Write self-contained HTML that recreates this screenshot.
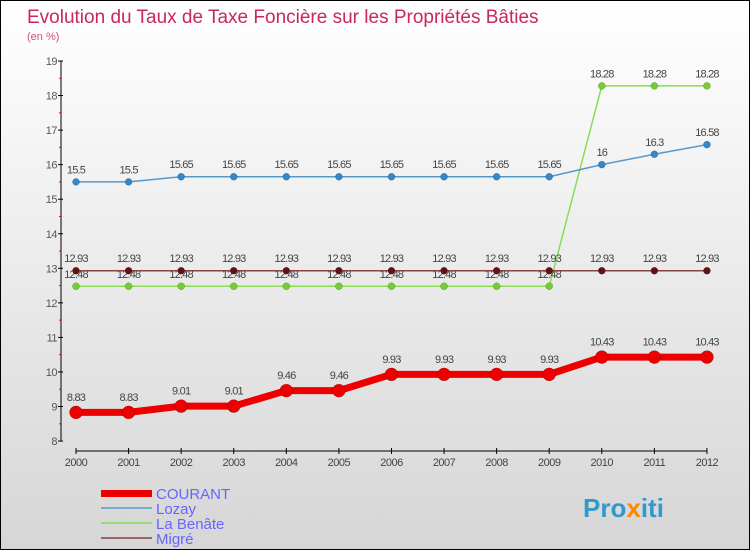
<!DOCTYPE html>
<html><head><meta charset="utf-8"><style>
html,body{margin:0;padding:0}
body{width:750px;height:550px;overflow:hidden;font-family:"Liberation Sans",sans-serif}
#wrap{position:relative;width:748px;height:548px;border:1px solid #000;background:linear-gradient(#ffffff,#d6d6d6)}
</style></head><body>
<div id="wrap">
<svg id="chart" width="748" height="548" style="position:absolute;left:0;top:0">
<text x="26" y="22" font-size="19" fill="#c8285a">Evolution du Taux de Taxe Foncière sur les Propriétés Bâties</text>
<text x="26" y="39" font-size="11" fill="#d05080">(en %)</text>
<g id="axes"></g>
<g id="series"></g>
<g id="legend">
<rect x="100" y="489" width="51" height="7" fill="#ee0000"/>
<text x="155" y="498" font-size="15" fill="#6666ff">COURANT</text>
<line x1="100" y1="507" x2="151" y2="507" stroke="#7aaad0" stroke-width="2"/>
<text x="155" y="513" font-size="15" fill="#6666ff">Lozay</text>
<line x1="100" y1="522" x2="151" y2="522" stroke="#99dd77" stroke-width="2"/>
<text x="155" y="528" font-size="15" fill="#6666ff">La Benâte</text>
<line x1="100" y1="537" x2="151" y2="537" stroke="#996666" stroke-width="2"/>
<text x="155" y="543" font-size="15" fill="#6666ff">Migré</text>
</g>
<g>
<text x="582" y="516" font-size="26" font-weight="bold" fill="#3399cc">Pro<tspan fill="#ff8800">x</tspan>iti</text>
</g>
</svg>
</div>
<script>
const years=[2000,2001,2002,2003,2004,2005,2006,2007,2008,2009,2010,2011,2012];
const courant=[8.83,8.83,9.01,9.01,9.46,9.46,9.93,9.93,9.93,9.93,10.43,10.43,10.43];
const lozay=[15.5,15.5,15.65,15.65,15.65,15.65,15.65,15.65,15.65,15.65,16,16.3,16.58];
const labene=[12.48,12.48,12.48,12.48,12.48,12.48,12.48,12.48,12.48,12.48,18.28,18.28,18.28];
const migre=[12.93,12.93,12.93,12.93,12.93,12.93,12.93,12.93,12.93,12.93,12.93,12.93,12.93];
const yTicks=[8,9,10,11,12,13,14,15,16,17,18,19];
const NS="http://www.w3.org/2000/svg";
const X=i=>75+i*52.58;
const Y=v=>60+(19-v)*34.55;
function mk(tag,attrs,parent){const e=document.createElementNS(NS,tag);for(const k in attrs)e.setAttribute(k,attrs[k]);parent.appendChild(e);return e;}
const ax=document.getElementById('axes');
let e=mk('line',{x1:60,y1:60,x2:60,y2:440,stroke:'#000','stroke-width':1},ax);


yTicks.forEach(v=>{
 let t=mk('line',{x1:57,y1:Y(v),x2:62,y2:Y(v),stroke:'#000'},ax);
 
 
 let l=mk('text',{x:56,y:Y(v)+4,'font-size':11,fill:'#555','text-anchor':'end','letter-spacing':'-0.5'},ax);
 l.textContent=v;
 
 
 if(v<19){let m=mk('line',{x1:58,y1:Y(v+0.5),x2:60,y2:Y(v+0.5),stroke:'#f00'},ax);
 
 }
});
e=mk('line',{x1:X(0),y1:450,x2:X(12),y2:450,stroke:'#000'},ax);


years.forEach((yr,i)=>{
 let t=mk('line',{x1:X(i),y1:447,x2:X(i),y2:453,stroke:'#000'},ax);
 
 
 let l=mk('text',{x:X(i),y:465,'font-size':11,fill:'#444','text-anchor':'middle','letter-spacing':'-0.5'},ax);
 l.textContent=yr;
 
 
});
const sg=document.getElementById('series');
function series(name,vals,color,w,r,dot,labelFrom){
 const g=mk('g',{},sg);
 
 
 const p=mk('polyline',{points:vals.map((v,i)=>X(i)+','+Y(v)).join(' '),fill:'none',stroke:color,'stroke-width':w,'stroke-linejoin':'round'},g);
 
 
 vals.forEach((v,i)=>{
  const c=mk('circle',{cx:X(i),cy:Y(v),r:r,fill:dot,stroke:'rgba(0,0,0,0.3)','stroke-width':0.5},g);
  
  
  const t=mk('text',{x:X(i),y:Y(v)-r-5,'font-size':11,fill:'#444','text-anchor':'middle','letter-spacing':'-0.8'},g);
  t.textContent=v;
  
  
 });
}
series('la-benate',labene,'#88dd55',1.5,3.5,'#77cc33');
series('migre',migre,'#884444',1.5,3.5,'#661111');
series('lozay',lozay,'#5599cc',1.5,3.5,'#3388cc');
series('courant',courant,'#ee0000',7,6.5,'#ee0000');
</script>
</body></html>
